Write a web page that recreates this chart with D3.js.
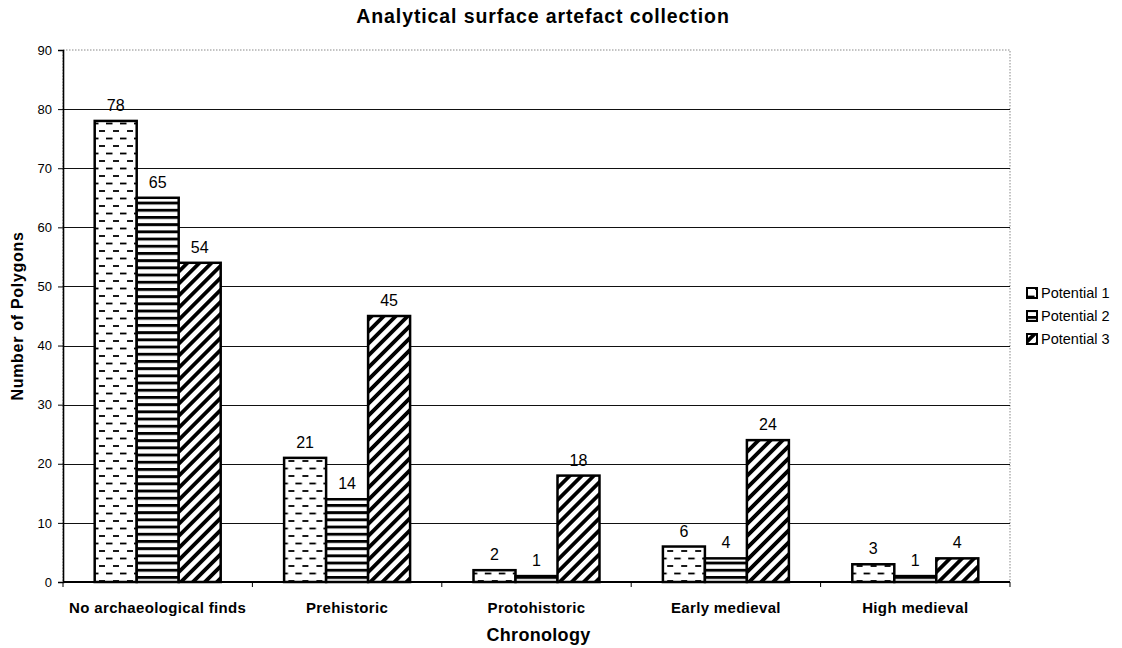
<!DOCTYPE html>
<html>
<head>
<meta charset="utf-8">
<script src="https://cdn.jsdelivr.net/npm/d3@7"></script>
<style>
  html, body { margin: 0; padding: 0; background: #fff; }
  svg { display: block; font-family: "Liberation Sans", Arial, Helvetica, sans-serif; }
</style>
</head>
<body>
<svg id="chart" width="1122" height="648"></svg>
<script>
// Chart data
const categories = ["No archaeological finds", "Prehistoric", "Protohistoric", "Early medieval", "High medieval"];
const seriesNames = ["Potential 1", "Potential 2", "Potential 3"];
const potential1 = [78, 21, 2, 6, 3];
const potential2 = [65, 14, 1, 4, 1];
const potential3 = [54, 45, 18, 24, 4];
const yTicks = [0, 10, 20, 30, 40, 50, 60, 70, 80, 90];
const titleText = "Analytical surface artefact collection";
const xTitle = "Chronology";
const yTitle = "Number of Polygons";

const seriesValues = [potential1, potential2, potential3];
const patternIds = ["pat-dash", "pat-horiz", "pat-diag"];

const svg = d3.select("#chart");
const W = 1122, H = 648;
const margin = { left: 63, right: 112, top: 50, bottom: 66 };
const plotR = W - margin.right, plotB = H - margin.bottom;

svg.append("rect").attr("width", W).attr("height", H).attr("fill", "#fff");

// Fill patterns
const defs = svg.append("defs");
const p1 = defs.append("pattern").attr("id", "pat-dash")
  .attr("patternUnits", "userSpaceOnUse").attr("width", 14).attr("height", 15);
p1.append("rect").attr("width", 14).attr("height", 15).attr("fill", "#fff");
p1.append("line").attr("x1", 1).attr("x2", 7.5).attr("y1", 3.5).attr("y2", 3.5)
  .attr("stroke", "#000").attr("stroke-width", 1.8);
p1.append("line").attr("x1", 8).attr("x2", 14.5).attr("y1", 11).attr("y2", 11)
  .attr("stroke", "#000").attr("stroke-width", 1.8);

const p2 = defs.append("pattern").attr("id", "pat-horiz")
  .attr("patternUnits", "userSpaceOnUse").attr("width", 10).attr("height", 7.2);
p2.append("rect").attr("width", 10).attr("height", 7.2).attr("fill", "#fff");
p2.append("rect").attr("width", 10).attr("height", 2.9).attr("fill", "#000");

const p3 = defs.append("pattern").attr("id", "pat-diag")
  .attr("patternUnits", "userSpaceOnUse").attr("width", 8.5).attr("height", 8.5)
  .attr("patternTransform", "rotate(45)");
p3.append("rect").attr("width", 8.5).attr("height", 8.5).attr("fill", "#fff");
p3.append("rect").attr("width", 3.8).attr("height", 8.5).attr("fill", "#000");

// Scales
const x0 = d3.scaleBand().domain(categories).range([margin.left, plotR]).paddingInner(0).paddingOuter(0);
const x1 = d3.scaleBand().domain(seriesNames).range([0, x0.bandwidth()]).paddingInner(0).paddingOuter(0.755);
const y = d3.scaleLinear().domain([0, 90]).range([plotB, margin.top]);

// Plot frame (dotted light border)
svg.append("rect")
  .attr("x", margin.left).attr("y", margin.top)
  .attr("width", plotR - margin.left).attr("height", plotB - margin.top)
  .attr("fill", "none").attr("stroke", "#888").attr("stroke-width", 1)
  .attr("stroke-dasharray", "1.5,1.5");

// Gridlines
svg.append("g").selectAll("line")
  .data(yTicks.filter(t => t > 0 && t < 90))
  .join("line")
  .attr("x1", margin.left).attr("x2", plotR)
  .attr("y1", d => Math.round(y(d)) + 0.5).attr("y2", d => Math.round(y(d)) + 0.5)
  .attr("stroke", "#111").attr("stroke-width", 1);

// Bars
const groups = svg.append("g").selectAll("g")
  .data(categories)
  .join("g")
  .attr("transform", d => `translate(${x0(d)},0)`);

groups.selectAll("rect")
  .data((c, ci) => seriesNames.map((s, si) => ({ s, si, v: seriesValues[si][ci] })))
  .join("rect")
  .attr("x", d => x1(d.s))
  .attr("y", d => y(d.v))
  .attr("width", x1.bandwidth())
  .attr("height", d => y(0) - y(d.v))
  .attr("fill", d => `url(#${patternIds[d.si]})`)
  .attr("stroke", "#000").attr("stroke-width", 2.5);

// Value labels
groups.selectAll("text")
  .data((c, ci) => seriesNames.map((s, si) => ({ s, si, v: seriesValues[si][ci] })))
  .join("text")
  .attr("x", d => x1(d.s) + x1.bandwidth() / 2)
  .attr("y", d => y(d.v) - 10)
  .attr("text-anchor", "middle")
  .attr("font-size", 16).attr("fill", "#000")
  .text(d => d.v);

// Y axis
const yAxis = d3.axisLeft(y).tickValues(yTicks).tickSize(5).tickPadding(6);
const gy = svg.append("g").attr("transform", `translate(${margin.left},0)`).call(yAxis);
gy.select(".domain").attr("stroke", "#000").attr("stroke-width", 1.6);
gy.selectAll(".tick line").attr("stroke", "#000").attr("stroke-width", 1);
gy.selectAll(".tick text").attr("font-size", 13).attr("fill", "#000")
  .attr("font-family", "Liberation Sans, Arial, sans-serif");

// X axis: ticks at category boundaries
const gx = svg.append("g").attr("transform", `translate(0,${plotB})`);
gx.append("line").attr("x1", margin.left).attr("x2", plotR)
  .attr("stroke", "#000").attr("stroke-width", 1.8);
gx.selectAll("line.tk")
  .data(categories.map(c => x0(c)).concat([plotR]))
  .join("line").attr("class", "tk")
  .attr("x1", d => d).attr("x2", d => d)
  .attr("y1", 0).attr("y2", 5)
  .attr("stroke", "#000").attr("stroke-width", 1);
gx.selectAll("text")
  .data(categories)
  .join("text")
  .attr("x", d => x0(d) + x0.bandwidth() / 2)
  .attr("y", 31)
  .attr("text-anchor", "middle")
  .attr("font-size", 15).attr("font-weight", "bold")
  .attr("letter-spacing", 0.35)
  .text(d => d);

// Titles
svg.append("text")
  .attr("x", 543).attr("y", 23)
  .attr("text-anchor", "middle")
  .attr("font-size", 19.5).attr("font-weight", "bold")
  .attr("letter-spacing", 0.9)
  .text(titleText);

svg.append("text")
  .attr("x", (margin.left + plotR) / 2 + 2).attr("y", 641)
  .attr("text-anchor", "middle")
  .attr("font-size", 18).attr("font-weight", "bold")
  .attr("letter-spacing", 0.3)
  .text(xTitle);

svg.append("text")
  .attr("transform", `translate(23,${(margin.top + plotB) / 2}) rotate(-90)`)
  .attr("text-anchor", "middle")
  .attr("font-size", 16).attr("font-weight", "bold")
  .attr("letter-spacing", 0.7)
  .text(yTitle);

// Legend
const legend = svg.append("g").attr("transform", "translate(1027,293)");
const items = legend.selectAll("g")
  .data(seriesNames)
  .join("g")
  .attr("transform", (d, i) => `translate(0,${i * 23})`);
items.append("rect")
  .attr("x", 0).attr("y", -5).attr("width", 10).attr("height", 10)
  .attr("fill", (d, i) => `url(#${patternIds[i]})`)
  .attr("stroke", "#000").attr("stroke-width", 2);
items.append("text")
  .attr("x", 14).attr("y", 5)
  .attr("font-size", 14.5).attr("fill", "#000")
  .text(d => d);
</script>
</body>
</html>
